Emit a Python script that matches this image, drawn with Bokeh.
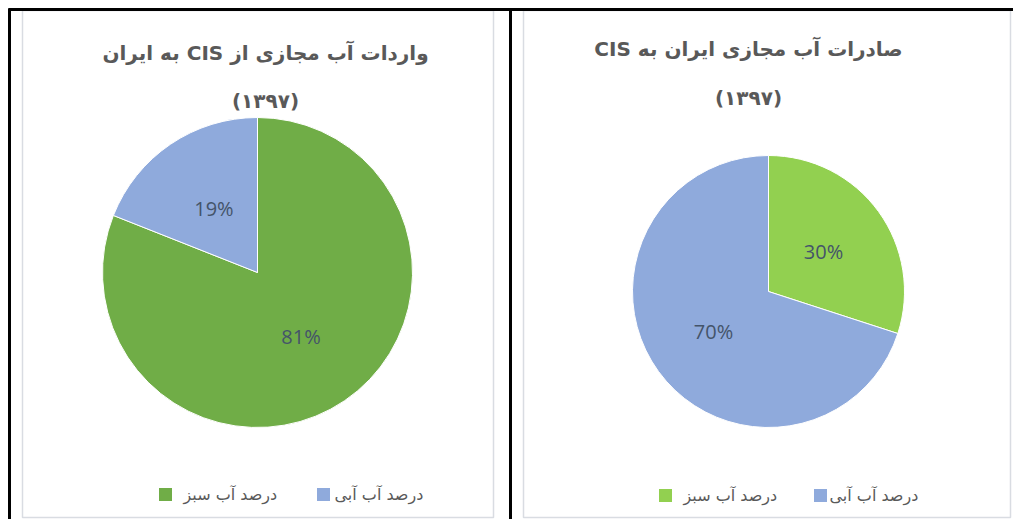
import numpy as np
from bokeh.plotting import figure
from bokeh.models import Range1d
from bokeh.core.properties import value
from bokeh.embed import file_html
from bokeh.resources import INLINE

# ---------------- data ----------------
categories = ["درصد آب سبز", "درصد آب آبی"]
import_pct = [81, 19]
export_pct = [30, 70]
import_colors = ["#70AD47", "#8FAADC"]
export_colors = ["#92D050", "#8FAADC"]
import_title = ["واردات آب مجازی از CIS به ایران", "(۱۳۹۷)"]
export_title = ["صادرات آب مجازی ایران به CIS", "(۱۳۹۷)"]

W, H = 1013, 519
RLE, PDF = "\u202B", "\u202C"


def rtl(s):
    return RLE + s + PDF


def Y(py):
    return H - py


p = figure(width=W, height=H, x_range=Range1d(0, W), y_range=Range1d(0, H),
           output_backend="svg", toolbar_location=None, min_border=0,
           x_axis_location=None, y_axis_location=None)
p.grid.visible = False
p.outline_line_color = None
p.background_fill_color = "white"
p.border_fill_color = "white"

# panels
p.quad(left=[22, 523], right=[493, 1010], top=[Y(10), Y(10)], bottom=[Y(517), Y(517)],
       fill_color="white", line_color="#d9dce2", line_width=1.5)
# table lines
p.segment(x0=[8, 9, 510], y0=[Y(9), Y(8), Y(8)], x1=[1013, 9, 510], y1=[Y(9), Y(519), Y(519)],
          line_color="black", line_width=3)


def pie(cx, cy, r, vals, colors, title, title_cx, title_y1, title_y2, leg):
    vals = np.array(vals, dtype=float)
    frac = vals / vals.sum()
    cum = np.concatenate([[0], np.cumsum(frac)])
    start = np.pi / 2 - 2 * np.pi * cum[:-1]
    end = np.pi / 2 - 2 * np.pi * cum[1:]
    p.wedge(x=cx, y=Y(cy), radius=r, start_angle=list(start), end_angle=list(end),
            direction="clock", fill_color=colors, line_color="white", line_width=1)
    mid = (start + end) / 2
    lx = cx + 0.5 * r * np.cos(mid)
    ly = Y(cy) + 0.5 * r * np.sin(mid)
    p.text(x=list(lx), y=list(ly), text=[f"{int(v)}%" for v in vals],
           text_font=value("Open Sans"), text_font_size="20px", text_color="#44546A",
           text_align="center", text_baseline="middle")
    p.text(x=[title_cx, title_cx], y=[Y(title_y1), Y(title_y2)], text=[rtl(t) for t in title],
           text_font=value("DejaVu Sans"), text_font_size="20px", text_font_style="bold",
           text_color="#595959", text_align="center", text_baseline="middle")
    # legend
    sq_x, txt_x, ly_ = leg
    p.scatter(x=sq_x, y=[Y(ly_)] * 2, marker="square", size=13, fill_color=colors, line_color=None)
    p.text(x=txt_x, y=[Y(ly_)] * 2, text=categories,
           text_font=value("DejaVu Sans"), text_font_size="16px", text_color="#595959",
           text_align="left", text_baseline="middle")


pie(257, 272, 155, import_pct, import_colors, import_title, 265, 52, 100,
    ([165, 323], [183, 334], 494))
pie(768, 291, 136, export_pct, export_colors, export_title, 748, 48, 97,
    ([665, 820], [683, 829], 495))

open("out.html", "w").write(file_html(p, INLINE))
